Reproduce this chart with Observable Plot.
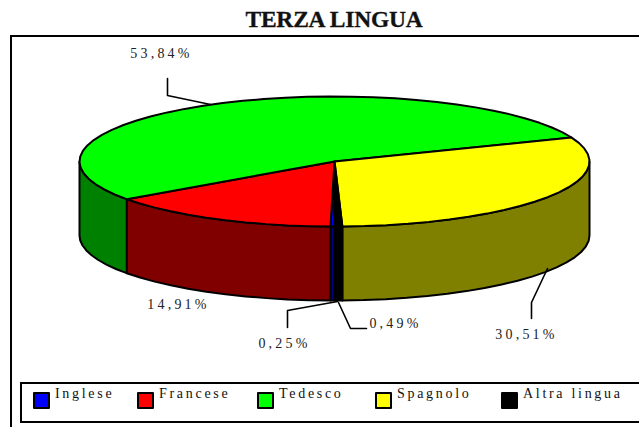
<!DOCTYPE html>
<html>
<head>
<meta charset="utf-8">
<script src="https://cdn.jsdelivr.net/npm/d3@7"></script>
<script src="https://cdn.jsdelivr.net/npm/@observablehq/plot@0.6"></script>
<style>
  html, body { margin: 0; padding: 0; background: #fff; overflow: hidden; width: 639px; height: 427px; }
  #page { position: relative; width: 639px; height: 427px; overflow: hidden; font-family: "Liberation Serif", serif; color: #111; }
  #page svg { position: absolute; left: 0; top: 0; background: transparent; }
  #title { position: absolute; left: 234px; top: 6px; width: 200px; text-align: center; white-space: nowrap; font-size: 23.5px; font-weight: bold; line-height: 26px; letter-spacing: -0.2px; word-spacing: 0; -webkit-text-stroke: 0.3px #111; }
  #frame { position: absolute; left: 10px; top: 35px; width: 660px; height: 420px; border: 2px solid #000; box-sizing: border-box; }
  #legend { position: absolute; left: 20px; top: 382px; width: 660px; height: 41px; border: 2px solid #000; box-sizing: border-box; }
  .key { position: absolute; top: 392px; height: 17px; width: 17px; border: 2px solid #000; box-sizing: border-box; border-radius: 1px; }
  .lab { position: absolute; top: 385px; font-size: 14px; line-height: 18px; letter-spacing: 2.7px; white-space: nowrap; }
</style>
</head>
<body>
<div id="page">
  <div id="frame"></div>
  <div id="legend"></div>
  <div id="title"></div>
</div>
<script>
const titleText = "TERZA LINGUA";
const languages = ["Inglese", "Francese", "Tedesco", "Spagnolo", "Altra lingua"];
const shares = [0.25, 14.91, 53.84, 30.51, 0.49];
const topColors = ["#0000ff", "#ff0000", "#00ff00", "#ffff00", "#000000"];
const sideColors = ["#000080", "#800000", "#008000", "#808000", "#000000"];

// Layout of the tilted pie, in pixels of the page
const cx = 334, cy = 161, rx = 255, ry = 65, depth = 74, startDeg = 90;
const legendKeyX = [33, 137, 257, 375, 501];
const legendTextX = [55, 159, 279, 397, 523];
const labelPos = [[284, 343], [178, 304], [161, 53], [526, 334], [395, 323]];
const leaders = [
  [[337, 301], [287, 310], [287, 327]],
  [],
  [[210, 104], [167, 95], [167, 78]],
  [[547, 268], [531, 302], [531, 318]],
  [[338, 302], [350, 328], [366, 328]]
];

const pt = (deg, dz = 0) => {
  const a = deg * Math.PI / 180;
  return {x: cx + rx * Math.cos(a), y: cy + ry * Math.sin(a) + dz};
};
const arc = (a0, a1, dz = 0) => {
  const n = Math.max(1, Math.ceil(Math.abs(a1 - a0) / 5));
  return d3.range(n + 1).map(i => pt(a0 + (a1 - a0) * i / n, dz));
};

// Slice boundaries, turning clockwise on screen from the start angle
let acc = startDeg;
const slices = shares.map((v, i) => {
  const a0 = acc; acc += v * 3.6;
  return {i, a0, a1: acc};
});

const line = (pts, fill) => Plot.line(pts, {
  x: "x", y: "y", fill, stroke: "#000", strokeWidth: 2,
  strokeLinejoin: "round", curve: "linear"
});

const marks = [];
// Front walls: only the part of each slice whose rim faces the viewer
for (const s of slices) {
  for (const turn of [0, 360]) {
    const a0 = Math.max(s.a0 - turn, 0), a1 = Math.min(s.a1 - turn, 180);
    if (a1 > a0) {
      const top = arc(a0, a1), bot = arc(a1, a0, depth);
      marks.push(line([...top, ...bot, top[0]], sideColors[s.i]));
    }
  }
}
// Top faces
for (const s of slices) {
  const c = {x: cx, y: cy};
  marks.push(line([c, ...arc(s.a0, s.a1), c], topColors[s.i]));
}
// Leader lines
leaders.forEach(l => {
  if (l.length) marks.push(Plot.line(l.map(([x, y]) => ({x, y})), {x: "x", y: "y", stroke: "#000", strokeWidth: 1.6}));
});
// Percentage labels
const labels = shares.map((v, i) => ({
  text: v.toFixed(2).replace(".", ",") + "%",
  x: labelPos[i][0], y: labelPos[i][1]
}));
marks.push(Plot.text(labels, {
  x: "x", y: "y", text: "text",
  fontFamily: "Liberation Serif, serif", fontSize: 14, fill: "#222",
  textAnchor: "middle", lineAnchor: "middle"
}));

const chart = Plot.plot({
  width: 639, height: 427,
  margin: 0,
  x: {domain: [0, 639], range: [0, 639], axis: null},
  y: {domain: [0, 427], range: [0, 427], axis: null},
  marks
});
chart.querySelectorAll("text").forEach(t => t.setAttribute("letter-spacing", "3.2"));

const page = document.getElementById("page");
page.insertBefore(chart, document.getElementById("title"));
document.getElementById("title").textContent = titleText;

languages.forEach((name, i) => {
  const k = document.createElement("div");
  k.className = "key";
  k.style.left = legendKeyX[i] + "px";
  k.style.background = topColors[i];
  page.appendChild(k);
  const t = document.createElement("div");
  t.className = "lab";
  t.style.left = legendTextX[i] + "px";
  t.textContent = name;
  page.appendChild(t);
});
</script>
</body>
</html>
